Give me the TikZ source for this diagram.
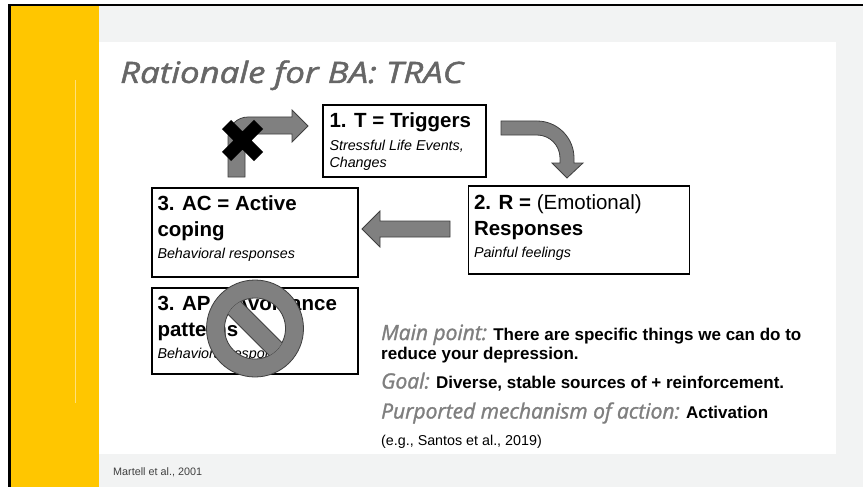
\documentclass[tikz,border=0pt]{standalone}
\usepackage{fontspec}
\setmainfont{Liberation Sans}
\newfontfamily\headfont{Open Sans}[FakeBold=1.4]
\definecolor{slidegray}{HTML}{F2F3F3}
\definecolor{bayellow}{HTML}{FFC600}
\definecolor{paleyellow}{HTML}{FFE07A}
\definecolor{titlegray}{HTML}{666666}
\definecolor{lblgray}{HTML}{7F7F7F}
\definecolor{arrowgray}{HTML}{808080}
\definecolor{arrowedge}{HTML}{3F3F3F}
\definecolor{footgray}{HTML}{404040}
\newcommand{\pointlabel}[1]{{\color{lblgray}\headfont\mdseries\itshape\fontsize{21}{24}\selectfont #1}}
\begin{document}
\begin{tikzpicture}[x=1pt,y=-1pt,
    box/.style={draw=black,line width=1.4pt,inner sep=0pt},
    head/.style={anchor=base west,inner sep=0pt,font=\fontsize{20.5}{24}\selectfont\bfseries},
    note/.style={anchor=base west,inner sep=0pt,font=\fontsize{14.3}{17}\selectfont\itshape},
    point/.style={anchor=base west,inner sep=0pt,font=\fontsize{17}{20}\selectfont\bfseries},
    blockarrow/.style={fill=arrowgray,draw=arrowedge,line width=0.8pt}]
  \useasboundingbox (0,0) rectangle (863,487);
  \fill[white] (0,0) rectangle (863,487);
  \fill[slidegray] (99,6) rectangle (863,487);
  \fill[white] (99,42) rectangle (836,454);
  \fill[bayellow] (11,6) rectangle (99,487);
  \fill[black] (8,4) rectangle (863,6.5);
  \fill[black] (8,4) rectangle (11,487);
  \draw[paleyellow,line width=1pt] (75,80) -- (75,403);

  \node[anchor=base west,inner sep=0pt,text=titlegray,font=\headfont\itshape\fontsize{29.5}{33}\selectfont] (title) at (120,83) {\scalebox{1.18}[1]{Rationale for BA: TRAC}};

  \node[box,minimum width=163pt,minimum height=72pt] (trig) at (404.5,141) {};
  \node[box,minimum width=221pt,minimum height=88pt] (resp) at (579,230) {};
  \node[box,minimum width=206pt,minimum height=89pt] (ac) at (255,232.5) {};
  \node[box,minimum width=206pt,minimum height=86pt] (ap) at (255,331) {};

  \node[head] (trigT) at ([shift={(7,23)}]trig.north west) {1. T = Triggers};
  \node[note] (trigN) at ([shift={(7,46)}]trig.north west) {Stressful Life Events,};
  \node[note] (trigM) at ([shift={(7,63)}]trig.north west) {Changes};
  \node[head] (respT) at ([shift={(6,24)}]resp.north west) {2. R = \mdseries(Emotional)};
  \node[head] (respR) at ([shift={(6,50)}]resp.north west) {Responses};
  \node[note] (respN) at ([shift={(6,72)}]resp.north west) {Painful feelings};
  \node[head] (acT) at ([shift={(6,23)}]ac.north west) {3. AC = Active};
  \node[head] (acC) at ([shift={(6,49)}]ac.north west) {coping};
  \node[note] (acN) at ([shift={(6,71)}]ac.north west) {Behavioral responses};
  \node[head] (apT) at ([shift={(6,23)}]ap.north west) {3. AP = Avoidance};
  \node[head] (apP) at ([shift={(6,49)}]ap.north west) {patterns};
  \node[note] (apN) at ([shift={(6,71)}]ap.north west) {Behavioral responses};

  \path[blockarrow] (228,177) -- (228,137) .. controls (228,126) and (237,117) .. (248,117) -- (292,117) -- (292,110) -- (308,126) -- (292,142) -- (292,134) -- (245,134) -- (245,177) -- cycle;
  \path[blockarrow] (501,121) -- (537,121) .. controls (557.4,121) and (574,137.6) .. (574,158) -- (574,163) -- (583,163) -- (567,178) -- (552,163) -- (560,163) -- (560,158) .. controls (560,145.3) and (549.7,135) .. (537,135) -- (501,135) -- cycle;
  \path[blockarrow] (450,221) -- (380,221) -- (380,211) -- (362,229) -- (380,247) -- (380,237) -- (450,237) -- cycle;

  \draw[black,line width=13pt] (226.5,124.5) -- (258.5,156.5) (258.5,124.5) -- (226.5,156.5);

  \fill[arrowgray,even odd rule] (255,328.5) circle (48.5pt) (255,328.5) circle (30.5pt);
  \draw[arrowedge,line width=0.8pt] (255,328.5) circle (48.5pt) (255,328.5) circle (30.5pt);
  \begin{scope}[shift={(255,328.5)},rotate=-45]
    \clip (0,0) circle (30.5pt);
    \fill[arrowgray] (-32,-9) rectangle (32,9);
    \draw[arrowedge,line width=0.8pt] (-32,-9) -- (32,-9) (-32,9) -- (32,9);
  \end{scope}

  \node[point] (mainpt) at (381,340) {\pointlabel{Main point:} There are specific things we can do to};
  \node[point] (mainpt2) at (381,359.5) {reduce your depression.};
  \node[point] (goal) at (381,388.5) {\pointlabel{Goal:} Diverse, stable sources of + reinforcement.};
  \node[point] (mech) at (381,418.5) {\pointlabel{Purported mechanism of action:} Activation};
  \node[anchor=base west,inner sep=0pt,font=\fontsize{14.3}{17}\selectfont] (cite) at (381,445) {(e.g., Santos et al., 2019)};
  \node[anchor=base west,inner sep=0pt,text=footgray,font=\fontsize{10.8}{13}\selectfont] (foot) at (113,475) {Martell et al., 2001};
\end{tikzpicture}
\end{document}
